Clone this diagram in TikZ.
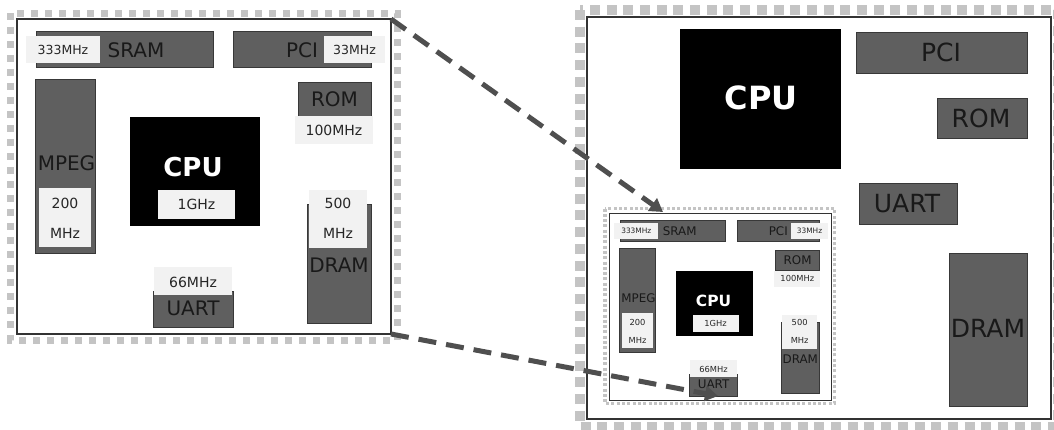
\documentclass[tikz,border=0pt]{standalone}
\usepackage{fontspec}
\setmainfont{DejaVu Sans}
\usetikzlibrary{arrows.meta}
\definecolor{chipgray}{HTML}{5F5F5F}
\definecolor{chipline}{HTML}{383838}
\definecolor{lblfill}{HTML}{F2F2F2}
\definecolor{dotgray}{HTML}{C4C4C4}
\definecolor{arrowgray}{HTML}{4F4F4F}
\tikzset{
  chip/.style={fill=chipgray, draw=chipline, line width=0.9pt},
  lblbox/.style={fill=lblfill},
  cpubox/.style={fill=black},
  board/.style={fill=white, draw=black!80, line width=1.2pt, inner sep=0pt, outer sep=0pt, anchor=north west},
  nametext/.style={inner sep=0pt, text=black!90, font=\fontsize{20}{24}\selectfont},
  bignametext/.style={inner sep=0pt, text=black!90, font=\fontsize{25}{30}\selectfont},
  freqtext/.style={inner sep=0pt, text=black!85, font=\fontsize{14}{16}\selectfont},
  twofreq/.style={inner sep=0pt, text=black!85, align=center, font=\fontsize{14}{30}\selectfont},
  smallfreq/.style={inner sep=0pt, text=black!85, font=\fontsize{12.5}{15}\selectfont},
  cputext/.style={inner sep=0pt, text=white, font=\bfseries\fontsize{26}{30}\selectfont},
  bigcputext/.style={inner sep=0pt, text=white, font=\bfseries\fontsize{32}{36}\selectfont},
  dotL/.style={draw=dotgray, line width=7pt, dash pattern=on 7pt off 7pt},
  dotR/.style={draw=dotgray, line width=10pt, dash pattern=on 10pt off 6.7pt},
  dotS/.style={draw=dotgray, line width=3.5pt, dash pattern=on 3pt off 2.3pt},
  zoomarrow/.style={draw=arrowgray, line width=5pt, dash pattern=on 18pt off 10pt, -{Triangle[length=13pt,width=15pt]}},
}
\newcommand{\boardcontents}{%
  % SRAM
  \path[chip] (19,12) rectangle (196,48);
  \path[lblbox] (9,17) rectangle (83,44);
  \node[smallfreq] (sramf) at (46,30.5) {333MHz};
  \node[nametext] (sram) at (119,31) {SRAM};
  % PCI
  \path[chip] (216,12) rectangle (354,48);
  \path[lblbox] (307,17) rectangle (368,44);
  \node[smallfreq] (pcif) at (337.5,30.5) {33MHz};
  \node[nametext] (pci) at (285,31) {PCI};
  % ROM
  \path[chip] (281,63) rectangle (354,97);
  \path[lblbox] (278,97) rectangle (356,125);
  \node[nametext] (rom) at (317.5,80) {ROM};
  \node[freqtext] (romf) at (317,111) {100MHz};
  % MPEG
  \path[chip] (18,60) rectangle (78,234);
  \path[lblbox] (22,169) rectangle (74,228);
  \node[nametext] (mpeg) at (49.5,144) {MPEG};
  \node[twofreq] (mpegf) at (48,199) {200\\MHz};
  % CPU
  \path[cpubox] (113,98) rectangle (243,207);
  \node[cputext] (cpu) at (176,148) {CPU};
  \path[lblbox] (141,171) rectangle (218,200);
  \node[freqtext] (cpuf) at (179.5,185.5) {1GHz};
  % DRAM
  \path[chip] (290,185) rectangle (354,304);
  \path[lblbox] (292,171) rectangle (350,229);
  \node[twofreq] (dramf) at (321,199.5) {500\\MHz};
  \node[nametext] (dram) at (322,246) {DRAM};
  % UART
  \path[chip] (136,272) rectangle (216,308);
  \path[lblbox] (137,248) rectangle (215,276);
  \node[freqtext] (uartf) at (176,263) {66MHz};
  \node[nametext] (uart) at (176,289) {UART};
}
\begin{document}
\begin{tikzpicture}[x=1pt, y=-1pt]
\fill[white] (0,0) rectangle (1054,429);
\useasboundingbox (0,0) rectangle (1054,429);
% ---------- left board ----------
\draw[dotL] (10,13) rectangle (397,340);
\node[board, minimum width=374pt, minimum height=315pt] (lboard) at (17,19) {};
\begin{scope}[shift={(17,19)}, name prefix=l-]
  \boardcontents
\end{scope}
% ---------- right board ----------
\draw[dotR] (580,10) rectangle (1058,427);
\node[board, line width=1.5pt, minimum width=464pt, minimum height=402pt] (rboard) at (587,17) {};
\path[cpubox] (680,29) rectangle (841,169);
\node[bigcputext] (r-cpu) at (761,98) {CPU};
\path[chip] (856,32) rectangle (1027,73);
\node[bignametext] (r-pci) at (941,52.5) {PCI};
\path[chip] (937,98) rectangle (1027,138);
\node[bignametext] (r-rom) at (981,118) {ROM};
\path[chip] (859,183) rectangle (957,224);
\node[bignametext] (r-uart) at (907,203.5) {UART};
\path[chip] (949,253) rectangle (1027,406);
\node[bignametext] (r-dram) at (988,328) {DRAM};
% ---------- small copy ----------
\draw[dotS] (605,208.5) rectangle (834.5,403.5);
\node[board, line width=1pt, minimum width=222pt, minimum height=187pt] (sboard) at (609,213) {};
\begin{scope}[shift={(609,213)}, scale=0.594, transform shape, name prefix=s-]
  \boardcontents
\end{scope}
% ---------- zoom arrows ----------
\coordinate (tip1) at (663,212);
\coordinate (tip2) at (718,396);
\draw[zoomarrow] (lboard.north east) -- (tip1);
\draw[zoomarrow] (lboard.south east) -- (tip2);
\end{tikzpicture}
\end{document}
